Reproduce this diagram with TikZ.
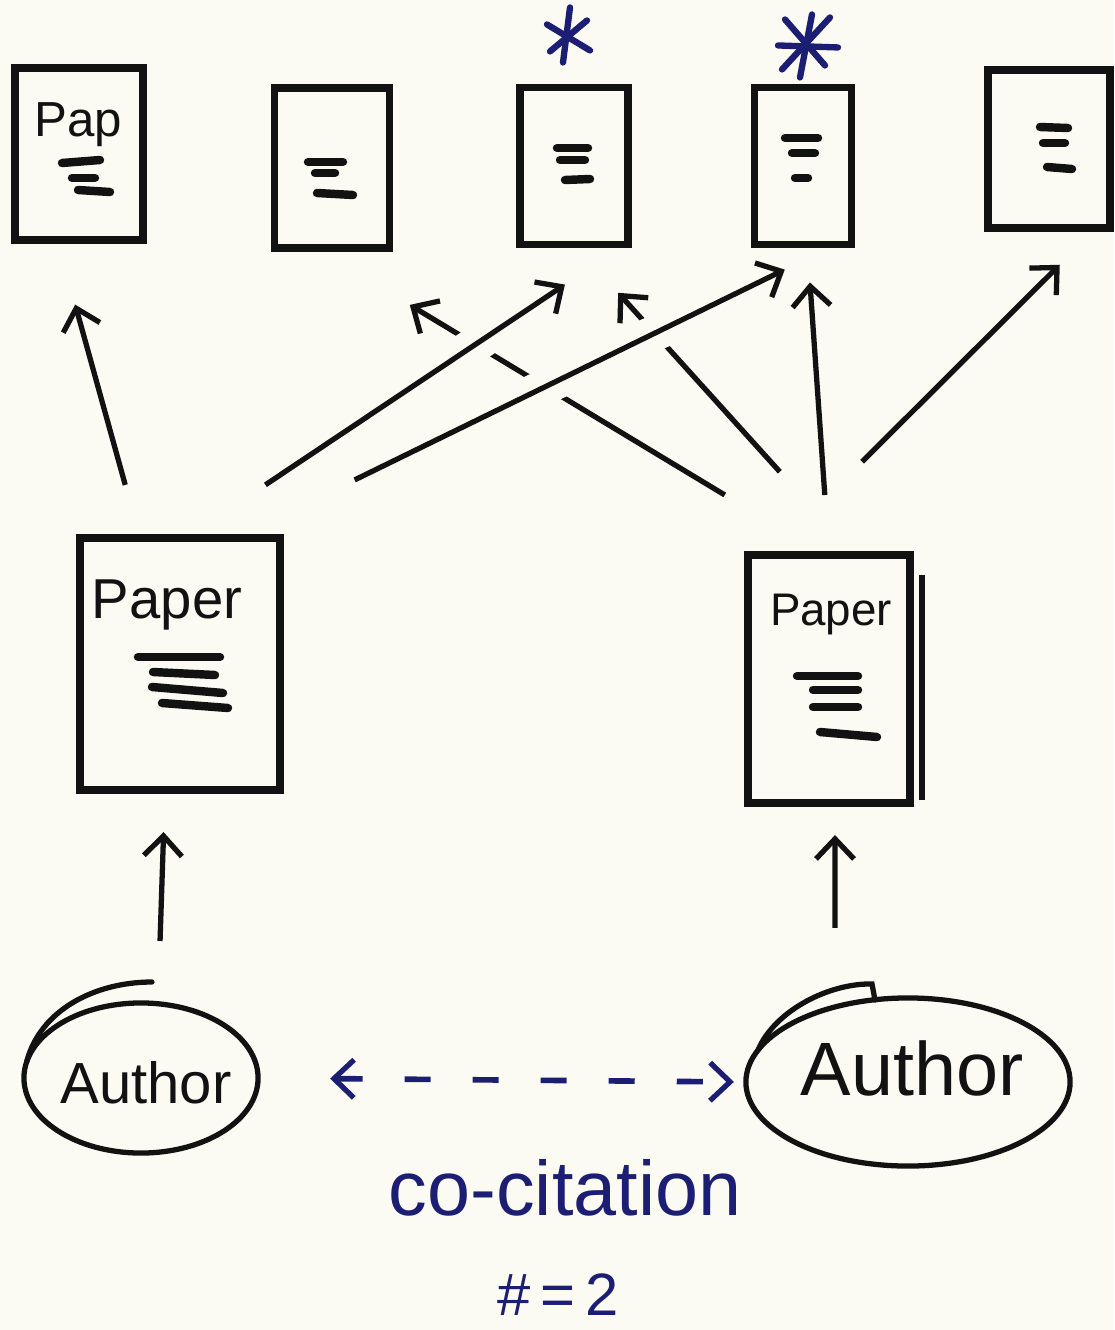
\documentclass[tikz,border=0pt]{standalone}
\usepackage{fontspec}
\setmainfont{Liberation Sans}
\usetikzlibrary{arrows.meta,calc,shapes.geometric}
\definecolor{ink}{RGB}{18,18,18}
\definecolor{pen}{RGB}{28,30,115}
\definecolor{paperbg}{RGB}{251,251,243}
\begin{document}
\begin{tikzpicture}[x=0.01cm,y=-0.01cm,
  >={Straight Barb[length=0.2cm,width=0.38cm,line width=1.5pt]},
  doc/.style={draw=ink,line width=2.2pt,rectangle,inner sep=0pt,outer sep=0pt},
  auth/.style={draw=ink,line width=1.5pt,ellipse,inner sep=0pt,outer sep=0pt},
  authstroke/.style={draw=ink,line width=1.5pt,line cap=round},
  cite/.style={draw=ink,line width=1.5pt,->},
  gap/.style={preaction={draw=paperbg,line width=0.36cm,-}},
  txtline/.style={draw=ink,line width=2.4pt,line cap=round},
  starstroke/.style={draw=pen,line width=1.8pt,line cap=round},
  hand/.style={text=ink,inner sep=0pt},
  bluetext/.style={text=pen,inner sep=0pt},
]
\fill[paperbg] (0,0) rectangle (1114,1330);
\useasboundingbox (0,0) rectangle (1114,1330);

% top row of cited papers
\node[doc,minimum width=1.28cm,minimum height=1.72cm] (p1) at (79,154) {};
\node[doc,minimum width=1.15cm,minimum height=1.60cm] (p2) at (332,168) {};
\node[doc,minimum width=1.08cm,minimum height=1.57cm] (p3) at (574,166) {};
\node[doc,minimum width=0.97cm,minimum height=1.57cm] (p4) at (803,166) {};
\node[doc,minimum width=1.22cm,minimum height=1.58cm] (p5) at (1049,149) {};

% citing papers
\node[doc,minimum width=2.00cm,minimum height=2.52cm] (L) at (180,664) {};
\node[doc,minimum width=1.62cm,minimum height=2.48cm] (R) at (829,679) {};

% authors
\node[auth,minimum width=2.34cm,minimum height=1.50cm] (a1) at (141,1078) {};
\node[auth,minimum width=3.24cm,minimum height=1.68cm] (a2) at (908,1082) {};
\node[hand,font=\fontsize{16.5}{20}\selectfont] (a1t) at (146,1083) {Author};
\node[hand,font=\fontsize{21.5}{26}\selectfont] (a2t) at (912,1068) {Author};
\draw[authstroke] (a1.172) .. controls (40,1010) and (95,982) .. (152,982);
\draw[authstroke] (a2.168) .. controls (775,1010) and (830,983) .. (872,984) -- (875,1000);

% texts in papers
\node[hand,font=\fontsize{14}{16}\selectfont] (t1) at ($(p1)+(-1,-29)$) {Pap};
\node[hand,font=\fontsize{16}{18}\selectfont] (tL) at ($(L)+(-13,-59)$) {Paper};
\node[hand,font=\fontsize{13}{15}\selectfont] (tR) at ($(R)+(2,-64)$) {Paper};

% text lines inside papers
\begin{scope}[shift={(p1.center)}]
  \draw[txtline] (-17,9) -- (21,6); \draw[txtline] (-7,24) -- (16,24); \draw[txtline] (-1,36) -- (31,38);
\end{scope}
\begin{scope}[shift={(p2.center)}]
  \draw[txtline] (-24,-6) -- (11,-6); \draw[txtline] (-17,5) -- (3,5); \draw[txtline] (-15,25) -- (21,27);
\end{scope}
\begin{scope}[shift={(p3.center)}]
  \draw[txtline] (-17,-18) -- (14,-18); \draw[txtline] (-14,-6) -- (11,-6); \draw[txtline] (-9,14) -- (16,13);
\end{scope}
\begin{scope}[shift={(p4.center)}]
  \draw[txtline] (-18,-28) -- (15,-28); \draw[txtline] (-11,-13) -- (12,-13); \draw[txtline] (-8,12) -- (5,12);
\end{scope}
\begin{scope}[shift={(p5.center)}]
  \draw[txtline] (-9,-22) -- (19,-21); \draw[txtline] (-6,-6) -- (16,-6); \draw[txtline] (-2,18) -- (23,20);
\end{scope}
\begin{scope}[shift={(L.center)}]
  \draw[txtline] (-42,-7) -- (40,-7); \draw[txtline] (-27,8) -- (35,11);
  \draw[txtline] (-28,23) -- (43,29); \draw[txtline] (-18,39) -- (48,44);
\end{scope}
\begin{scope}[shift={(R.center)}]
  \draw[txtline] (-32,-3) -- (29,-3); \draw[txtline] (-16,11) -- (29,11);
  \draw[txtline] (-16,28) -- (29,28); \draw[txtline] (-9,53) -- (48,58);
  \draw[ink,line width=1.6pt] (93,-104) -- (93,121);
\end{scope}

% stars
\begin{scope}[shift={(p3.north)}]
  \draw[starstroke] (-4,-80) -- (-11,-25);
  \draw[starstroke] (-27,-63) -- (16,-37);
  \draw[starstroke] (-24,-36) -- (13,-67);
\end{scope}
\begin{scope}[shift={(p4.north)}]
  \draw[starstroke] (9,-73) -- (-3,-10);
  \draw[starstroke] (-25,-42) -- (35,-40);
  \draw[starstroke] (-18,-68) -- (22,-22);
  \draw[starstroke] (27,-70) -- (-21,-18);
\end{scope}

% citations from the right paper (drawn first, crossed over later)
\draw[cite,shorten <=1.16cm,shorten >=1.10cm] ($(R.north west)!.47!(R.north east)$) -- ($(p2.south west)!.357!(p2.south east)$);
\draw[cite,shorten <=1.12cm,shorten >=0.65cm] ($(R.north west)!.66!(R.north east)$) -- ($(p3.south west)!.505!(p3.south east)$);
\draw[cite,shorten <=0.60cm,shorten >=0.38cm] ($(R.north west)!.5!(R.north east)$) -- ($(p4.south west)!.544!(p4.south east)$);
\draw[cite,shorten <=1.32cm,shorten >=0.52cm] ($(R.north west)!.127!(R.north east)$) -- ($(p5.south west)!.89!(p5.south east)$);

% citations from the left paper
\draw[cite,shorten <=0.55cm,shorten >=0.67cm] ($(L.north west)!.30!(L.north east)$) -- ($(p1.south west)!.33!(p1.south east)$);
\draw[cite,gap,shorten <=0.955cm,shorten >=0.72cm] ($(L.north west)!.53!(L.north east)$) -- ($(p3.south west)!.97!(p3.south east)$);
\draw[cite,gap,shorten <=1.32cm,shorten >=0.57cm] ($(L.north west)!.78!(L.north east)$) -- ($(p4.south west)!.84!(p4.south east)$);

% authorship
\draw[cite,shorten <=0.62cm,shorten >=0.42cm] ([xshift=0.17cm]a1.north) -- ([xshift=-0.15cm]L.south);
\draw[cite,shorten <=0.70cm,shorten >=0.32cm] ([xshift=-0.73cm]a2.north) -- ([xshift=0.06cm]R.south);

% co-citation link
\draw[draw=pen,line width=1.6pt,dash pattern=on 0.26cm off 0.42cm,<->,
  shorten <=0.72cm,shorten >=0.12cm] (a1.east) -- (a2.west);

\node[bluetext,font=\fontsize{22}{26}\selectfont] (cc) at (565,1188) {co-citation};
\node[bluetext,font=\fontsize{17}{20}\selectfont] (cnt) at (558,1295) {\#\,=\,2};
\end{tikzpicture}
\end{document}
